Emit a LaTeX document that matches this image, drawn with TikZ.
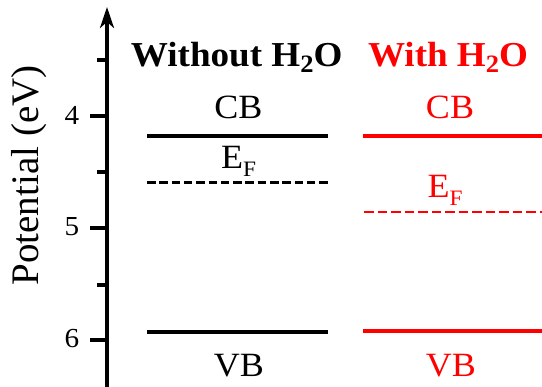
\documentclass[tikz,border=0pt]{standalone}
\usepackage{fontspec}
\setmainfont{Liberation Serif}
\usetikzlibrary{arrows.meta}
\definecolor{myred}{RGB}{255,0,0}
\tikzset{
  lvl/.style={line width=4.3pt},
  fermi/.style={line width=2.9pt, dash pattern=on 8.5pt off 3.8pt},
  lbl/.style={font=\fontsize{34}{36}\selectfont, inner sep=0pt, anchor=base},
  ttl/.style={font=\fontsize{35}{38}\selectfont\bfseries, inner sep=0pt, anchor=base},
  ticklbl/.style={font=\fontsize{27.5}{30}\selectfont, inner sep=0pt, anchor=center},
  axisline/.style={line width=3.3pt},
}
\newcommand{\sx}[1]{\scalebox{1.06}[1]{#1}}
\newcommand{\efsub}{E\raisebox{-8pt}{\fontsize{22}{22}\selectfont F}}
\begin{document}
\begin{tikzpicture}[x=1pt,y=1pt]
\useasboundingbox (0,0) rectangle (542,387);
% axis
\coordinate (ax0) at (107,0);
\coordinate (ax1) at (107,380);
\draw[axisline,-{Stealth[length=21pt,width=14pt,inset=6pt]}] (ax0) -- (ax1);
% ticks (y = 387 - py)
\foreach \n/\py in {a/116,b/228,c/340}{
  \coordinate (t\n) at (107,387-\py);
  \draw[axisline] (t\n) -- ++(-17,0);
}
\foreach \n/\py in {a/60,b/172,c/285}{
  \coordinate (m\n) at (107,387-\py);
  \draw[axisline] (m\n) -- ++(-10,0);
}
\node[ticklbl] (l4) at (72,387-115) {\sx{4}};
\node[ticklbl] (l5) at (72,387-227) {\sx{5}};
\node[ticklbl] (l6) at (72,387-339) {\sx{6}};
\node[font=\fontsize{39}{42}\selectfont, rotate=90, inner sep=0pt] (ylab) at (29,387-175.5) {Potential (eV)};
% titles
\node[ttl] (t1) at (236.7,387-66.7) {\sx{Without\ H\raisebox{-6.3pt}{\fontsize{25}{25}\selectfont 2}O}};
\node[ttl, text=myred] (t2) at (448,387-66.7) {\sx{With\ H\raisebox{-6.3pt}{\fontsize{25}{25}\selectfont 2}O}};
% black levels
\coordinate (bcb1) at (147,387-135.7);
\coordinate (bcb2) at (327.7,387-135.7);
\coordinate (bef1) at (147,387-182.7);
\coordinate (bef2) at (327.7,387-182.7);
\coordinate (bvb1) at (147,387-331.7);
\coordinate (bvb2) at (327.7,387-331.7);
\draw[lvl] (bcb1) -- (bcb2);
\draw[fermi] (bef1) -- (bef2);
\draw[lvl] (bvb1) -- (bvb2);
% red levels
\coordinate (rcb1) at (363,387-135.7);
\coordinate (rcb2) at (542,387-135.7);
\coordinate (ref1) at (364,387-212);
\coordinate (ref2) at (542,387-212);
\coordinate (rvb1) at (363,387-330.7);
\coordinate (rvb2) at (542,387-330.7);
\draw[lvl,myred] (rcb1) -- (rcb2);
\draw[fermi,myred,dash pattern=on 9.5pt off 4pt] (ref1) -- (ref2);
\draw[lvl,myred] (rvb1) -- (rvb2);
% labels
\node[lbl] (cb1) at (238.3,387-118.3) {\sx{CB}};
\node[lbl, anchor=base west] (ef1) at (221,387-168.3) {\sx{\efsub}};
\node[lbl] (vb1) at (239,387-376.7) {\sx{VB}};
\node[lbl, text=myred] (cb2) at (450,387-118.3) {\sx{CB}};
\node[lbl, text=myred, anchor=base west] (ef2) at (427.5,387-197.5) {\sx{\efsub}};
\node[lbl, text=myred] (vb2) at (451,387-376.7) {\sx{VB}};
\end{tikzpicture}
\end{document}
